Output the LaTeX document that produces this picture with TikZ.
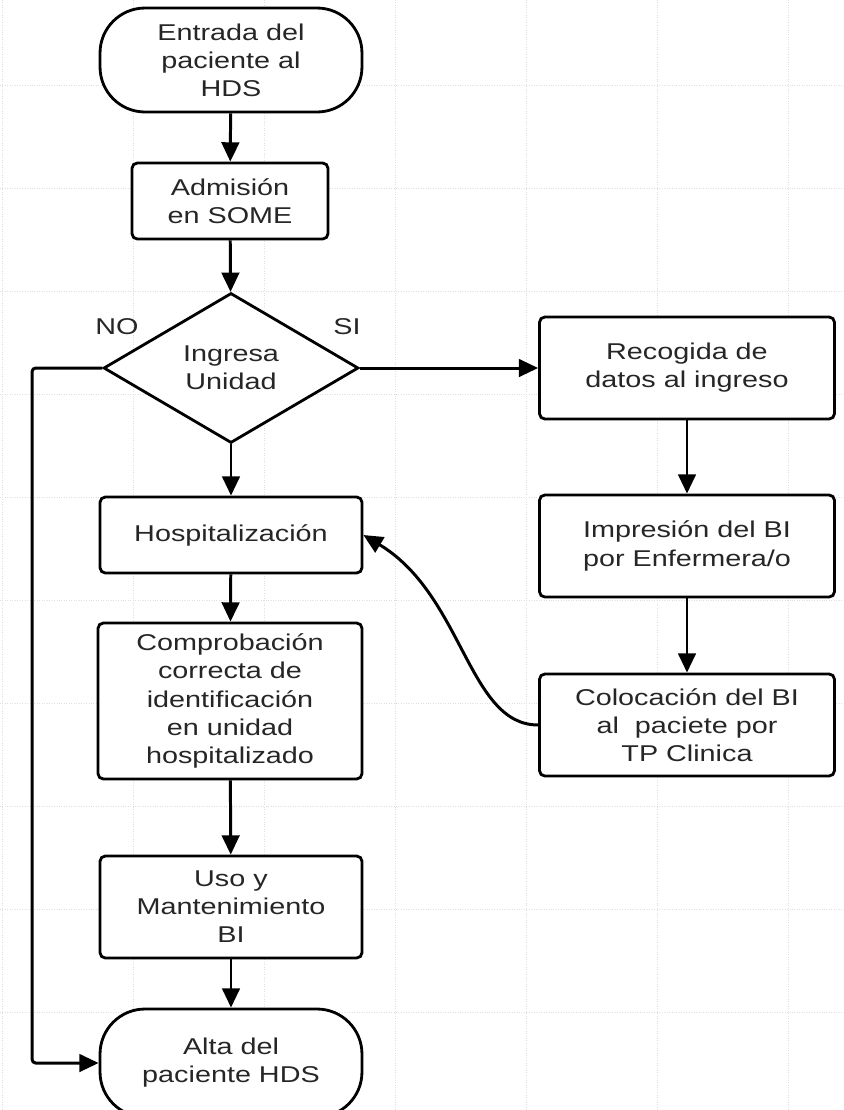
\documentclass[tikz,border=0pt]{standalone}
\usepackage{fontspec}
\setmainfont{Liberation Sans}[FakeStretch=1.26]
\usepackage{tikz}
\usetikzlibrary{shapes.geometric, arrows.meta}

\begin{document}
\begin{tikzpicture}[x=0.02cm, y=-0.02cm,
  every node/.style={font=\fontsize{13}{16}\selectfont, text=black!85, align=center},
  proc/.style={draw=black, line width=1.6pt, fill=white, rounded corners=3pt, inner sep=2pt},
  term/.style={proc, rounded corners=0.9cm},
  dec/.style={draw=black, line width=1.6pt, fill=white, diamond, aspect=1.7, inner sep=0pt,
    minimum width=5.1cm, minimum height=3cm},
  arr/.style={line width=1.7pt, -{Triangle[length=11pt,width=10pt]}},
  bggrid/.style={gray!25, densely dotted, line width=0.4pt}]
\clip (0,0) rectangle (844,1110);
\fill[white] (0,0) rectangle (844,1110);
% faint background grid
\foreach \y in {85,188,...,1012}{\draw[bggrid] (0,\y) -- (844,\y);}
\foreach \x in {2,133,...,788}{\draw[bggrid] (\x,0) -- (\x,1110);}
% left column
\node[term, minimum width=5.24cm, minimum height=2.08cm] (entrada) at (231,60) {Entrada del\\paciente al\\HDS};
\node[proc, minimum width=3.92cm, minimum height=1.52cm] (admision) at (230,201) {Admisión\\en SOME};
\node[dec] (ingresa) at (231,368) {Ingresa\\Unidad};
\node[proc, minimum width=5.24cm, minimum height=1.52cm] (hosp) at (231,535) {Hospitalización};
\node[proc, minimum width=5.28cm, minimum height=3.12cm] (compr) at (230,701) {Comprobación\\correcta de\\identificación\\en unidad\\hospitalizado};
\node[proc, minimum width=5.24cm, minimum height=2.04cm] (uso) at (231,907) {Uso y\\Mantenimiento\\BI};
\node[term, minimum width=5.24cm, minimum height=2.16cm] (alta) at (231,1063) {Alta del\\paciente HDS};
% right column
\node[proc, minimum width=5.9cm, minimum height=2.04cm] (recogida) at (687,368) {Recogida de\\datos al ingreso};
\node[proc, minimum width=5.9cm, minimum height=2.04cm] (impresion) at (687,546) {Impresión del BI\\por Enfermera/o};
\node[proc, minimum width=5.9cm, minimum height=2.04cm] (coloc) at (687,725) {Colocación del BI\\al~ paciete por\\TP Clinica};
% branch labels
\node (no) at (117,327) {NO};
\node (si) at (347,327) {SI};
% arrows
\draw[arr] (entrada) -- (admision);
\draw[arr] (admision) -- (ingresa);
\draw[arr] (ingresa) -- (hosp);
\draw[arr] (hosp) -- (compr);
\draw[arr] (compr) -- (uso);
\draw[arr] (uso) -- (alta);
\draw[arr] (ingresa.east) -- (recogida.west);
\draw[arr] (recogida) -- (impresion);
\draw[arr] (impresion) -- (coloc);
\draw[arr, rounded corners=2pt] (ingresa.west) -- ++(-70,0) |- (alta.west);
\draw[arr] (coloc.west) .. controls +(-70,0) and +(100,60) .. (hosp.east);
\end{tikzpicture}
\end{document}
